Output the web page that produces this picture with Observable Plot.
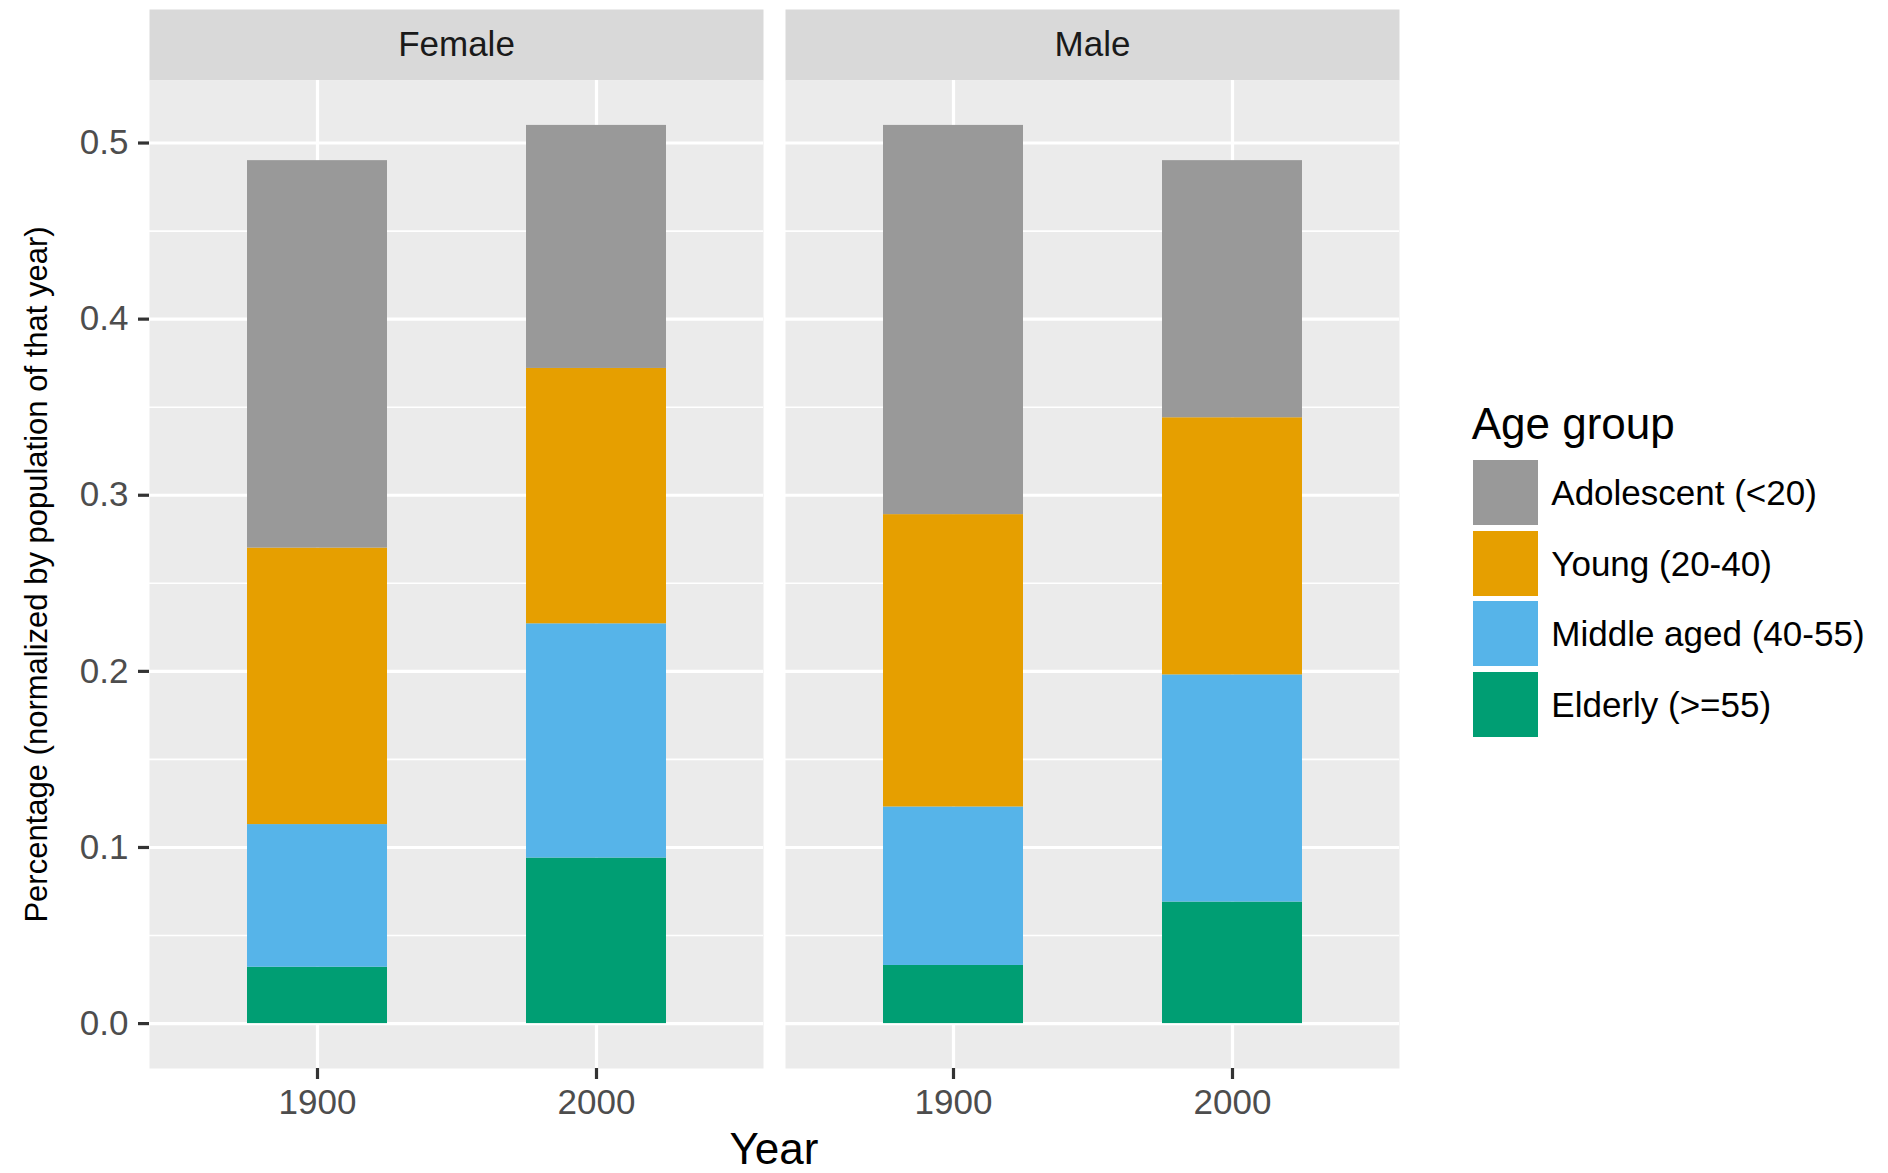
<!DOCTYPE html>
<html>
<head>
<meta charset="utf-8">
<script src="https://cdn.jsdelivr.net/npm/d3@7"></script>
<script src="https://cdn.jsdelivr.net/npm/@observablehq/plot@0.6"></script>
<style>
  html, body { margin: 0; padding: 0; background: #fff; overflow: hidden; }
  #wrap { position: relative; width: 1888px; height: 1173px; font-family: "Liberation Sans", Arial, Helvetica, sans-serif; }
  #chart { position: absolute; left: 0; top: 0; }
  #xtitle { position: absolute; left: 0; width: 1548px; top: 1130px; text-align: center; font-size: 44px; line-height: 38px; color: #000; }
  #legend { position: absolute; left: 1470px; top: 402px; color: #000; }
  #legend .ltitle { font-size: 44px; line-height: 44px; margin-left: 1.7px; margin-bottom: 11.2px; white-space: nowrap; }
  #legend .row { display: flex; align-items: center; height: 70.7px; }
  #legend .sw { width: 65px; height: 65px; margin-left: 3.3px; }
  #legend .lab { margin-left: 13px; font-size: 35px; line-height: 35px; white-space: nowrap; }
</style>
</head>
<body>
<div id="wrap">
  <div id="chart"></div>
  <div id="xtitle"></div>
  <div id="legend"></div>
</div>
<script>
// ---- data ----
const sexes = ["Female", "Male"];
const years = ["1900", "2000"];
const groups = ["Adolescent (<20)", "Young (20-40)", "Middle aged (40-55)", "Elderly (>=55)"];
const groupColors = ["#999999", "#E69F00", "#56B4E9", "#009E73"];
// segment values, order: Female 1900, Female 2000, Male 1900, Male 2000
const adolescent = [0.220, 0.138, 0.221, 0.146];
const young      = [0.157, 0.145, 0.166, 0.146];
const middleAged = [0.081, 0.133, 0.090, 0.129];
const elderly    = [0.032, 0.094, 0.033, 0.069];
const yTicks = [0, 0.1, 0.2, 0.3, 0.4, 0.5];
const yMinorTicks = [0.05, 0.15, 0.25, 0.35, 0.45];
const yTitle = "Percentage (normalized by population of that year)";
const xTitle = "Year";
const legendTitle = "Age group";

// ---- table ----
const series = [adolescent, young, middleAged, elderly];
const cells = d3.cross(sexes, years);
const rows = [];
// build bottom (elderly) first so the stack puts it at the bottom
for (let gi = groups.length - 1; gi >= 0; gi--) {
  cells.forEach(([sex, year], ci) => {
    rows.push({sex, year, group: groups[gi], value: series[gi][ci]});
  });
}
const yMax = d3.max(cells, (c, ci) => d3.sum(series, s => s[ci]));
const pad = yMax * 0.05;

const FONT = '"Liberation Sans", Arial, Helvetica, sans-serif';
const W = 1888, H = 1173, MT = 80, MB = 105, STRIP = 71;
const panelH = H - MT - MB;

const plot = Plot.plot({
  width: W,
  height: H,
  marginLeft: 148,
  marginRight: 488,
  marginTop: MT,
  marginBottom: MB,
  style: {fontFamily: FONT, background: "transparent"},
  fx: {domain: sexes, paddingInner: 0.0345, paddingOuter: 0, axis: null, label: null},
  x: {domain: years, type: "band", paddingInner: 0.5, paddingOuter: 0.35, label: null},
  y: {domain: [-pad, yMax + pad], label: null},
  color: {domain: groups, range: groupColors},
  marks: [
    Plot.frame({fill: "#D9D9D9", stroke: "none", dy: -STRIP, insetBottom: panelH - STRIP}),
    Plot.frame({fill: "#EBEBEB", stroke: "none"}),
    Plot.gridY(yMinorTicks, {stroke: "#ffffff", strokeOpacity: 1, strokeWidth: 1.6}),
    Plot.gridY(yTicks, {stroke: "#ffffff", strokeOpacity: 1, strokeWidth: 3.2}),
    Plot.gridX({stroke: "#ffffff", strokeOpacity: 1, strokeWidth: 3.2}),
    Plot.barY(rows, {fx: "sex", x: "year", y: "value", fill: "group"}),
    Plot.axisX({tickSize: 11, tickPadding: 10, fontSize: 35, fill: "#4D4D4D", stroke: "#333333", strokeWidth: 3.2, label: null}),
    Plot.axisY(yTicks, {tickSize: 11, tickPadding: 10, fontSize: 35, fill: "#4D4D4D", stroke: "#333333", strokeWidth: 3.2, tickFormat: d3.format(".1f"), label: null}),
    Plot.text(sexes, {fx: d => d, text: d => d, frameAnchor: "top", dy: -STRIP / 2, lineAnchor: "middle", fontSize: 35, fill: "#1A1A1A"}),
    Plot.text([yTitle], {fx: () => sexes[0], text: d => d, frameAnchor: "left", rotate: -90, dx: -103, lineAnchor: "bottom", textAnchor: "middle", fontSize: 31, fill: "#000000"})
  ]
});
document.getElementById("chart").appendChild(plot);

document.getElementById("xtitle").textContent = xTitle;

const color = plot.scale("color");
const legend = d3.select("#legend");
legend.append("div").attr("class", "ltitle").text(legendTitle);
groups.forEach(g => {
  const row = legend.append("div").attr("class", "row");
  row.append("div").attr("class", "sw").style("background", color.apply(g));
  row.append("div").attr("class", "lab").text(g);
});
</script>
</body>
</html>
